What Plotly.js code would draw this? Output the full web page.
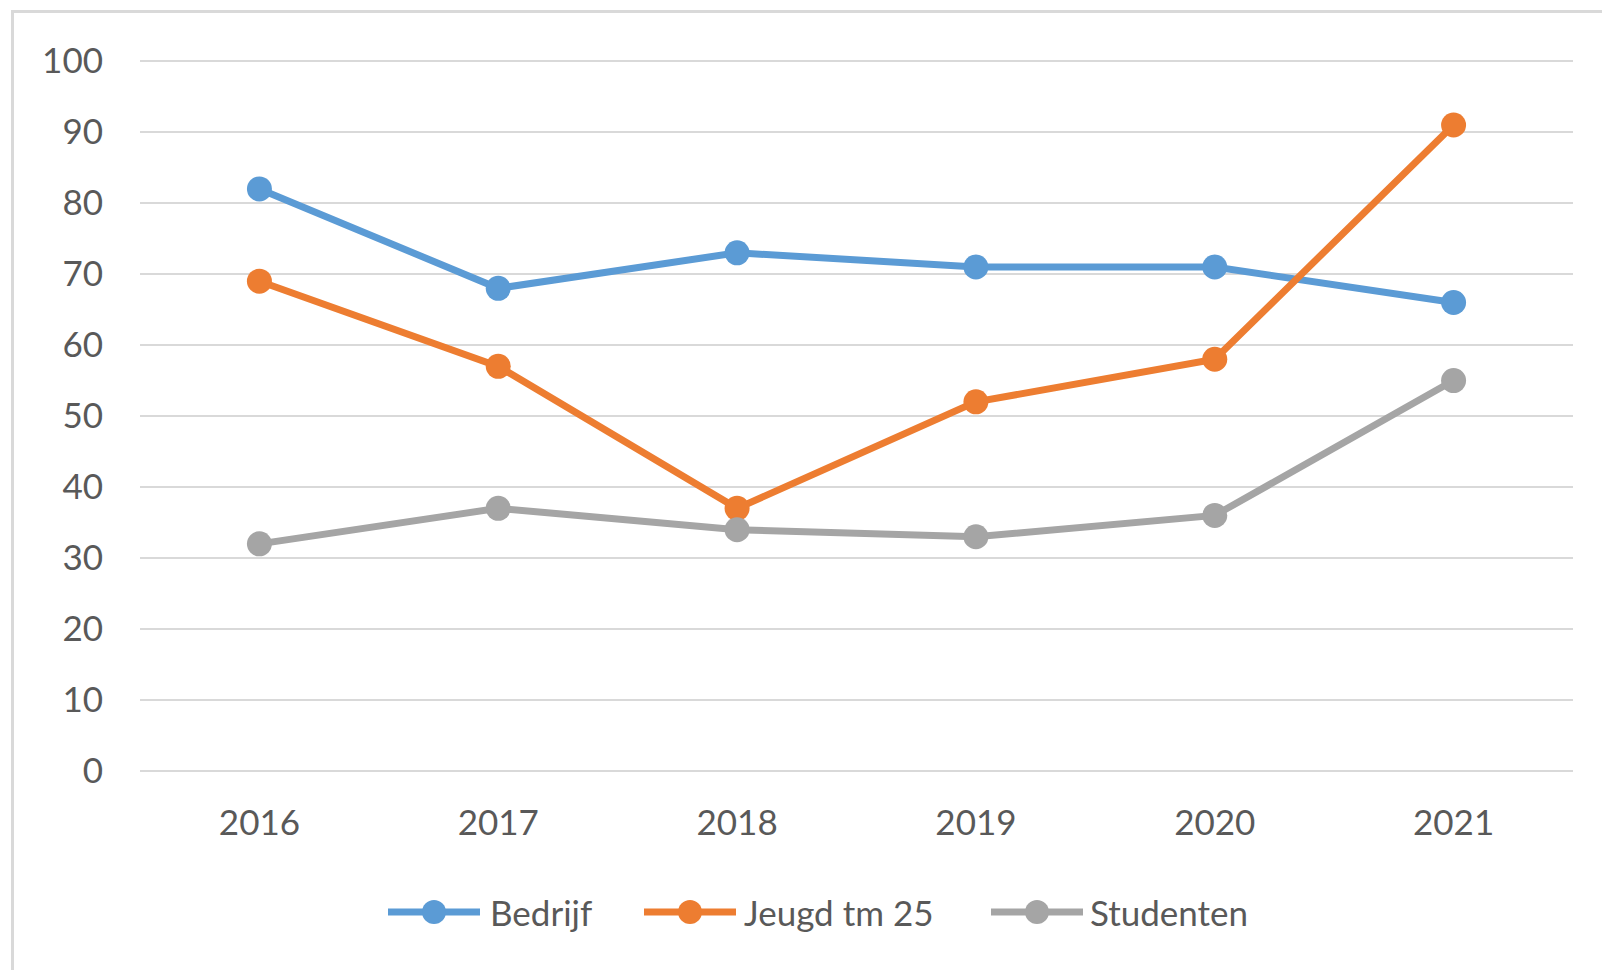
<!DOCTYPE html>
<html>
<head>
<meta charset="utf-8">
<script src="https://cdn.plot.ly/plotly-3.0.1.min.js"></script>
<style>
  html, body { margin: 0; padding: 0; background: #ffffff; }
  #wrap { position: relative; width: 1602px; height: 970px; overflow: hidden; }
  #frame { position: absolute; left: 11px; top: 10px; width: 1620px; height: 1000px;
           border-left: 3px solid #d9d9d9; border-top: 3px solid #d9d9d9; box-sizing: border-box; pointer-events: none; z-index: 2; }
  #chart { position: absolute; left: 0; top: 0; width: 1602px; height: 970px; }
</style>
</head>
<body>
<div id="wrap">
  <div id="chart"></div>
  <div id="frame"></div>
</div>
<script>
const years = ["2016", "2017", "2018", "2019", "2020", "2021"];
const bedrijf = [82, 68, 73, 71, 71, 66];
const jeugd = [69, 57, 37, 52, 58, 91];
const studenten = [32, 37, 34, 33, 36, 55];
const seriesNames = ["Bedrijf", "Jeugd tm 25", "Studenten"];
const seriesColors = ["#5b9bd5", "#ed7d31", "#a5a5a5"];
const yTicks = [0, 10, 20, 30, 40, 50, 60, 70, 80, 90, 100];

const fontFam = "Lato, 'Open Sans', sans-serif";
const textColor = "#595959";
const seriesValues = [bedrijf, jeugd, studenten];

const traces = seriesValues.map((vals, i) => ({
  type: "scatter",
  mode: "lines+markers",
  name: seriesNames[i],
  x: years,
  y: vals,
  line: { color: seriesColors[i], width: 7 },
  marker: { color: seriesColors[i], size: 25, symbol: "circle" },
  showlegend: false,
  hoverinfo: "x+y+name"
}));

// Custom legend (Excel-style long line samples), placed in paper coordinates
const plotL = 140, plotW = 1433, plotBottom = 771, plotH = 712;
const px2x = p => (p - plotL) / plotW;
const py2y = p => (plotBottom - p) / plotH;
const legendY = py2y(912);
const legendItems = [
  { lineFrom: 388, lineTo: 480, textAt: 488 },
  { lineFrom: 644, lineTo: 736, textAt: 742 },
  { lineFrom: 991, lineTo: 1083, textAt: 1088 }
];
const shapes = [];
const annotations = [];
legendItems.forEach((it, i) => {
  shapes.push({
    type: "line", xref: "paper", yref: "paper",
    x0: px2x(it.lineFrom), x1: px2x(it.lineTo), y0: legendY, y1: legendY,
    line: { color: seriesColors[i], width: 7 }, layer: "above"
  });
  shapes.push({
    type: "circle", xref: "paper", yref: "paper",
    xsizemode: "pixel", ysizemode: "pixel",
    xanchor: px2x((it.lineFrom + it.lineTo) / 2), yanchor: legendY,
    x0: -12, x1: 12, y0: -12, y1: 12,
    fillcolor: seriesColors[i], line: { width: 0 }, layer: "above"
  });
  annotations.push({
    xref: "paper", yref: "paper",
    x: px2x(it.textAt), y: legendY,
    xanchor: "left", yanchor: "middle",
    text: seriesNames[i], showarrow: false,
    font: { family: fontFam, size: 35, color: textColor }
  });
});

const layout = {
  width: 1602,
  height: 970,
  paper_bgcolor: "#ffffff",
  plot_bgcolor: "#ffffff",
  margin: { l: 140, r: 29, t: 59, b: 199 },
  font: { family: fontFam, color: textColor, size: 35 },
  showlegend: false,
  shapes: shapes,
  annotations: annotations,
  xaxis: {
    type: "category",
    range: [-0.5, 5.5],
    showgrid: false,
    zeroline: false,
    showline: false,
    ticks: "",
    ticklabelstandoff: 28,
    tickfont: { family: fontFam, size: 35, color: textColor },
    fixedrange: true
  },
  yaxis: {
    range: [0, 100.3],
    tickvals: yTicks,
    ticktext: yTicks.map(String),
    showgrid: true,
    gridcolor: "#d9d9d9",
    gridwidth: 1.5,
    zeroline: true,
    zerolinecolor: "#d9d9d9",
    zerolinewidth: 1.5,
    showline: false,
    ticks: "",
    ticklabelstandoff: 36,
    tickfont: { family: fontFam, size: 35, color: textColor },
    fixedrange: true
  }
};

Plotly.newPlot("chart", traces, layout, { displayModeBar: false });
</script>
</body>
</html>
